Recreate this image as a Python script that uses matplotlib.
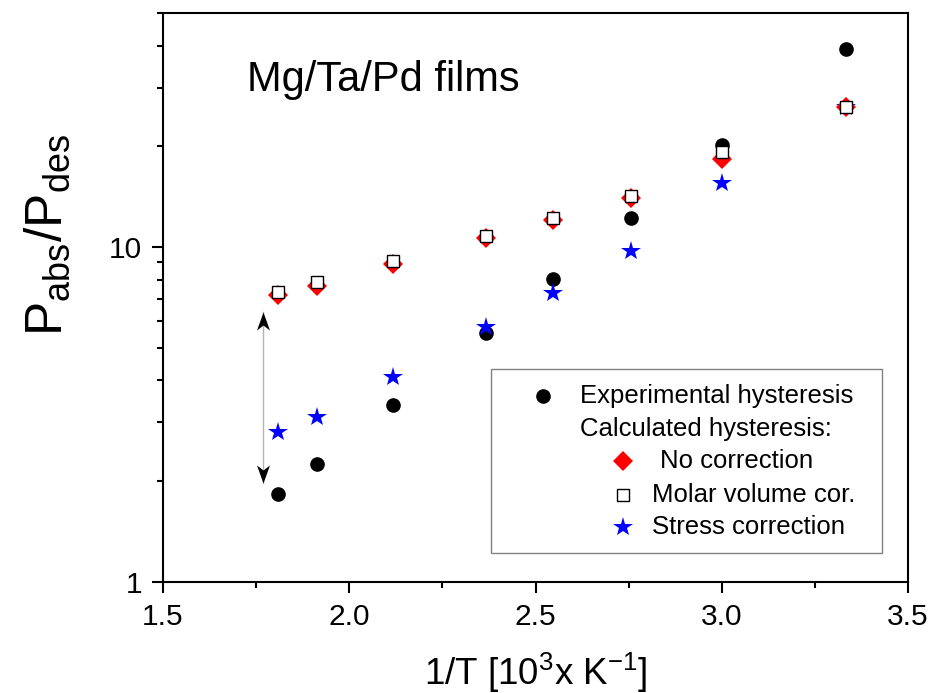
import numpy as np
from matplotlib import pyplot as plt
from matplotlib.path import Path
from matplotlib.patches import Rectangle
from matplotlib.ticker import FixedLocator, FuncFormatter, LogLocator, NullFormatter, MultipleLocator

plt.rcParams['font.family'] = ['Liberation Sans', 'DejaVu Sans']
plt.rcParams['mathtext.default'] = 'regular'

# data (1/T in 10^3/K, ratio Pabs/Pdes)
inv_T = [1.81, 1.914, 2.117, 2.366, 2.546, 2.756, 3.0, 3.334]
exp_hyst = [1.83, 2.25, 3.37, 5.55, 8.02, 12.26, 20.2, 39.1]
no_corr = [7.17, 7.68, 8.91, 10.64, 12.07, 14.0, 18.3, 26.3]
molar_cor = [7.36, 7.89, 9.12, 10.81, 12.2, 14.2, 19.3, 26.3]
stress_cor = [2.80, 3.11, 4.10, 5.79, 7.29, 9.77, 15.6, 26.3]

# hysteresis arrow
arrow_x = 1.769
arrow_y = [1.97, 6.42]

fig = plt.figure(figsize=(9.31, 6.93), dpi=100)
ax = fig.add_axes([0.1751, 0.1606, 0.8002, 0.8202])

ax.plot(inv_T, exp_hyst, 'o', color='black', ms=9.5, ls='none', zorder=3)
ax.plot(inv_T, stress_cor, '*', color='blue', ms=14.5, mew=0, ls='none', zorder=4)
ax.plot(inv_T, no_corr, 'D', color='red', ms=10.5, mew=0, ls='none', zorder=5)
ax.plot(inv_T, molar_cor, 's', mfc='white', mec='black', mew=1, ms=8, ls='none', zorder=6)

# double arrow: gray shaft, black heads
ax.plot([arrow_x, arrow_x], arrow_y, color='#b5b5b5', lw=1, zorder=2)
head = Path([(0, 0), (-0.36, -1), (0, -0.72), (0.36, -1), (0, 0)],
            [Path.MOVETO, Path.LINETO, Path.LINETO, Path.LINETO, Path.CLOSEPOLY])
head_dn = Path([(0, 0), (-0.36, 1), (0, 0.72), (0.36, 1), (0, 0)],
               [Path.MOVETO, Path.LINETO, Path.LINETO, Path.LINETO, Path.CLOSEPOLY])
ax.plot(arrow_x, arrow_y[1], marker=head, color='black', ms=26, mew=0, zorder=2)
ax.plot(arrow_x, arrow_y[0], marker=head_dn, color='black', ms=26, mew=0, zorder=2)

ax.set_xlim(1.5, 3.5)
ax.set_yscale('log')
ax.set_ylim(1, 50)

ax.xaxis.set_major_locator(MultipleLocator(0.5))
ax.xaxis.set_minor_locator(MultipleLocator(0.25))
ax.xaxis.set_major_formatter(FuncFormatter(lambda v, p: '%.1f' % v))
ax.yaxis.set_major_locator(FixedLocator([1, 10]))
ax.yaxis.set_major_formatter(FuncFormatter(lambda v, p: '%d' % v))
ax.yaxis.set_minor_locator(LogLocator(base=10, subs=np.arange(2, 10)))
ax.yaxis.set_minor_formatter(NullFormatter())

for s in ax.spines.values():
    s.set_linewidth(1.5)
ax.tick_params(which='both', direction='out', width=1.5, labelsize=21.5, top=False, right=False)
ax.tick_params(which='major', length=8, pad=7)
ax.tick_params(which='minor', length=4.5)

ax.set_xlabel(r'1/T [10$^3$x K$^{-1}$]', fontsize=26.5, va='baseline')
ax.xaxis.set_label_coords(0.5, -0.181)
ax.set_ylabel(r'P$_{abs}$/P$_{des}$', fontsize=37)
ax.yaxis.set_label_coords(-0.122, 0.61)

ax.text(0.1123, 0.864, 'Mg/Ta/Pd films', transform=ax.transAxes, fontsize=30, ha='left', va='baseline')

# legend drawn by hand
ax.add_patch(Rectangle((0.440, 0.051), 0.525, 0.323, transform=ax.transAxes,
                       fill=True, facecolor='white', edgecolor='#808080', lw=1, zorder=7))
rows = [0.3267, 0.2687, 0.2115, 0.1526, 0.0958]
kw = dict(transform=ax.transAxes, fontsize=18.5, va='center', ha='left', zorder=9)
ax.plot(0.510, rows[0], 'o', color='black', ms=9.5, transform=ax.transAxes, zorder=8)
ax.text(0.5597, rows[0], 'Experimental hysteresis', **kw)
ax.text(0.5597, rows[1], 'Calculated hysteresis:', **kw)
ax.plot(0.6175, rows[2], 'D', color='red', ms=10.5, mew=0, transform=ax.transAxes, zorder=8)
ax.text(0.667, rows[2], 'No correction', **kw)
ax.plot(0.6175, rows[3], 's', mfc='white', mec='black', mew=1, ms=8, transform=ax.transAxes, zorder=8)
ax.text(0.657, rows[3], 'Molar volume cor.', **kw)
ax.plot(0.6175, rows[4], '*', color='blue', ms=14.5, mew=0, transform=ax.transAxes, zorder=8)
ax.text(0.657, rows[4], 'Stress correction', **kw)

fig.savefig('out.png', dpi=100)
